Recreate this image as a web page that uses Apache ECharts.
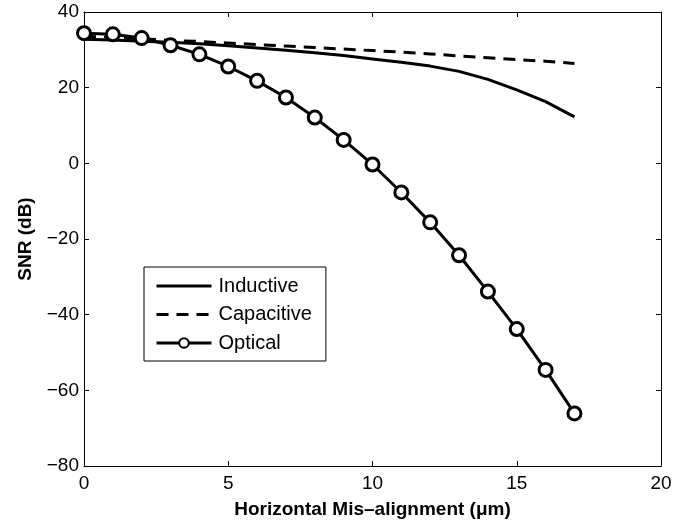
<!DOCTYPE html>
<html>
<head>
<meta charset="utf-8">
<script src="https://cdn.jsdelivr.net/npm/echarts@6/dist/echarts.min.js"></script>
<style>
  html, body { margin: 0; padding: 0; background: #fff; }
  #chart { width: 690px; height: 525px; }
</style>
</head>
<body>
<div id="chart"></div>
<script>
// misalignment in µm
const xs = [0, 1, 2, 3, 4, 5, 6, 7, 8, 9, 10, 11, 12, 13, 14, 15, 16, 17]
// SNR (dB)
const inductive  = [32.8, 32.6, 32.3, 32.0, 31.6, 31.1, 30.5, 29.9, 29.2, 28.5, 27.6, 26.7, 25.7, 24.3, 22.2, 19.4, 16.3, 12.3]
const capacitive = [33.6, 33.3, 32.9, 32.5, 32.2, 31.8, 31.4, 31.0, 30.6, 30.2, 29.8, 29.4, 28.9, 28.4, 27.9, 27.4, 27.0, 26.4]
const optical    = [34.4, 34.1, 33.1, 31.2, 28.8, 25.6, 21.8, 17.4, 12.1, 6.2, -0.3, -7.7, -15.6, -24.3, -33.9, -43.8, -54.6, -66.1]

const pairs = ys => xs.map((x, i) => [x, ys[i]])
const minus = v => String(v).replace('-', '\u2212')

const FONT = 'Liberation Sans, Arial, Helvetica, sans-serif'
const axisLine = { show: true, onZero: false, lineStyle: { color: '#000', width: 1 } }
const tick = { show: true, inside: true, length: 5, lineStyle: { color: '#000' } }

const chart = echarts.init(document.getElementById('chart'))
chart.setOption({
  animation: false,
  textStyle: { fontFamily: FONT },
  grid: { left: 84, right: 29, top: 12, bottom: 59 },
  legend: {
    orient: 'vertical',
    left: 144, top: 267,
    padding: [9, 14, 8, 11],
    itemGap: 8.5,
    itemWidth: 55, itemHeight: 12,
    borderColor: '#000', borderWidth: 1,
    backgroundColor: '#fff',
    lineStyle: { width: 3 },
    textStyle: { fontSize: 20, color: '#000', fontFamily: FONT, padding: [0, 0, 0, 2] },
    data: [
      { name: 'Inductive', itemStyle: { opacity: 0 } },
      { name: 'Capacitive', itemStyle: { opacity: 0 } },
      { name: 'Optical' },
    ],
  },
  xAxis: [
    {
      type: 'value', min: 0, max: 20, interval: 5,
      name: 'Horizontal Mis\u2013alignment (\u03bcm)',
      nameLocation: 'middle', nameGap: 34,
      nameTextStyle: { fontSize: 19, fontWeight: 'bold', color: '#000' },
      axisLine, axisTick: tick,
      axisLabel: { fontSize: 19, color: '#000', margin: 8 },
      splitLine: { show: false },
    },
    {
      type: 'value', min: 0, max: 20, interval: 5, position: 'top',
      axisLine, axisTick: tick, axisLabel: { show: false }, splitLine: { show: false },
    },
  ],
  yAxis: [
    {
      type: 'value', min: -80, max: 40, interval: 20,
      name: 'SNR (dB)',
      nameLocation: 'middle', nameGap: 49,
      nameTextStyle: { fontSize: 19, fontWeight: 'bold', color: '#000' },
      axisLine, axisTick: tick,
      axisLabel: { fontSize: 19, color: '#000', margin: 5, formatter: minus },
      splitLine: { show: false },
    },
    {
      type: 'value', min: -80, max: 40, interval: 20, position: 'right',
      axisLine, axisTick: tick, axisLabel: { show: false }, splitLine: { show: false },
    },
  ],
  series: [
    {
      name: 'Inductive', type: 'line', data: pairs(inductive),
      showSymbol: false, symbol: 'none',
      lineStyle: { color: '#000', width: 3 },
      itemStyle: { color: '#000' },
    },
    {
      name: 'Capacitive', type: 'line', data: pairs(capacitive),
      showSymbol: false, symbol: 'none',
      lineStyle: { color: '#000', width: 3, type: [12, 8] },
      itemStyle: { color: '#000' },
    },
    {
      name: 'Optical', type: 'line', data: pairs(optical),
      symbol: 'circle', symbolSize: 13,
      lineStyle: { color: '#000', width: 3 },
      itemStyle: { color: '#fff', borderColor: '#000', borderWidth: 3 },
      z: 3,
    },
  ],
})
</script>
</body>
</html>
